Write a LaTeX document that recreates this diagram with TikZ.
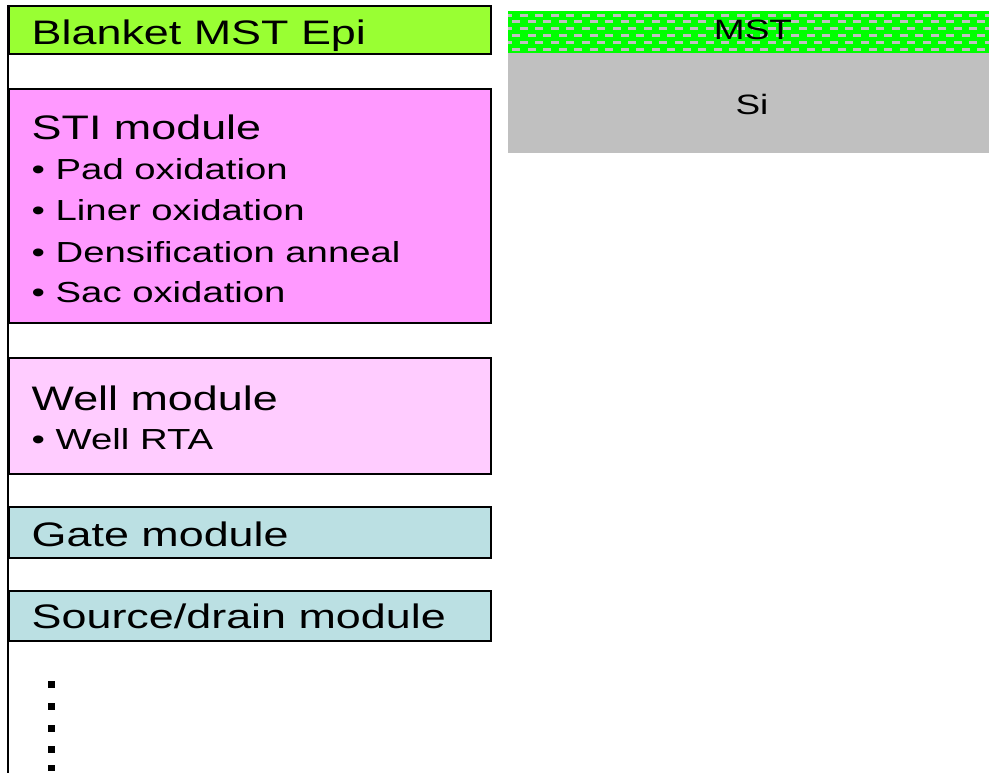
\documentclass[tikz,border=0pt]{standalone}
\usepackage{fontspec}
\setmainfont[FakeStretch=1.32]{Liberation Sans}
\definecolor{blanketc}{HTML}{99FF33}
\definecolor{stic}{HTML}{FF99FF}
\definecolor{wellc}{HTML}{FFCCFF}
\definecolor{gatec}{HTML}{BBE0E3}
\definecolor{mstgreen}{HTML}{00FF00}
\definecolor{sigray}{HTML}{C0C0C0}
\begin{document}
\begin{tikzpicture}[x=1pt,y=-1pt,
  box/.style={draw=black,line width=2pt,anchor=north west,inner sep=0pt,minimum width=482pt},
  layer/.style={draw=none,anchor=north west,inner sep=0pt,minimum width=481pt},
  title/.style={anchor=base west,inner sep=0pt,font=\fontsize{34}{40}\selectfont},
  item/.style={anchor=base west,inner sep=0pt,font=\fontsize{29}{34}\selectfont},
  lay/.style={anchor=base,inner sep=0pt,font=\fontsize{28}{32}\selectfont},
  dotsq/.style={fill=black,inner sep=0pt,minimum size=6.5pt}]
\useasboundingbox (0,0) rectangle (989,773);
% time line
\coordinate (ltop) at (8,5);
\coordinate (lbot) at (8,773);
\draw[line width=2.5pt] (ltop) -- (lbot);
% module boxes
\node[box,fill=blanketc,minimum height=48pt] (blanket) at (8,5) {};
\node[box,fill=stic,minimum height=234pt] (sti) at (8,88) {};
\node[box,fill=wellc,minimum height=116pt] (well) at (8,357) {};
\node[box,fill=gatec,minimum height=50.7pt] (gate) at (8,506) {};
\node[box,fill=gatec,minimum height=50pt] (sd) at (8,590) {};
% texts
\node[title] (tblanket) at (31.5,45) {Blanket MST Epi};
\node[title] (tsti) at (31.5,140) {STI module};
\node[item] (i1) at (31.5,180) {• Pad oxidation};
\node[item] (i2) at (31.5,221) {• Liner oxidation};
\node[item] (i3) at (31.5,262) {• Densification anneal};
\node[item] (i4) at (31.5,302) {• Sac oxidation};
\node[title] (twell) at (31.5,410) {Well module};
\node[item] (i5) at (31.5,449) {• Well RTA};
\node[title] (tgate) at (31.5,546) {Gate module};
\node[title] (tsd) at (31.5,628) {Source/drain module};
% continuation dots
\foreach \yy [count=\i] in {684.5,706.5,728.5,749.5,768}
  \node[dotsq] (d\i) at (51.5,\yy) {};
% layer stack
\node[layer,fill=mstgreen,minimum height=42pt] (mst) at (508,11) {};
\node[layer,fill=sigray,minimum height=99.7pt] (si) at (508,53) {};
\begin{scope}
  \clip (mst.north west) rectangle (mst.south east);
  \foreach \yy in {15.3,29,42.7}
    \foreach \n in {0,...,31}
      \fill[sigray] ({504.2+15.5*\n},{\yy-1.5}) rectangle ++(8,3);
  \foreach \yy in {22,36,49.3}
    \foreach \n in {0,...,31}
      \fill[sigray] ({512+15.5*\n},{\yy-1.5}) rectangle ++(8,3);
\end{scope}
\node[lay] (tmst) at (753,40) {MST};
\node[lay] (tsi) at (752,115) {Si};
\end{tikzpicture}
\end{document}
